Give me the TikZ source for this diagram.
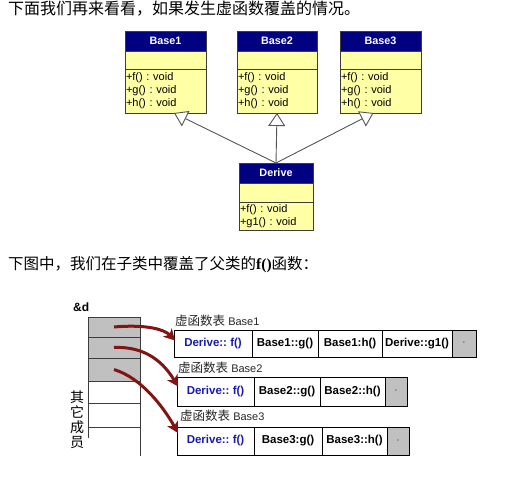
\documentclass[tikz,border=0pt]{standalone}
\usepackage{fontspec}
\setmainfont{Liberation Sans}
\newfontfamily\cjk{Noto Sans CJK SC}
\newfontfamily\serifl{Liberation Serif}
\usetikzlibrary{arrows.meta}
\definecolor{umlnavy}{RGB}{0,0,128}
\definecolor{umlyellow}{RGB}{255,255,166}
\definecolor{umlline}{RGB}{60,60,60}
\definecolor{inhline}{RGB}{85,85,85}
\definecolor{memgray}{RGB}{192,192,192}
\definecolor{ptrred}{RGB}{130,20,20}
\definecolor{fblue}{RGB}{25,25,175}
\definecolor{dotred}{RGB}{200,80,80}
\frenchspacing
\begin{document}
\begin{tikzpicture}[x=1pt,y=-1pt,
  umlhead/.style={draw=umlline, fill=umlnavy, text=white, font=\bfseries\fontsize{10.8}{12}\selectfont, inner sep=0pt, outer sep=0pt, anchor=north},
  umlbody/.style={draw=umlline, fill=umlyellow, inner sep=0pt, outer sep=0pt, anchor=north},
  umlops/.style={umlbody, align=left, inner xsep=1pt, font=\fontsize{11}{13}\selectfont},
  inherit/.style={draw=inhline, line width=0.9pt, -{Triangle[open, length=13pt, width=17pt, fill=white]}},
  memcell/.style={draw=umlline, inner sep=0pt, outer sep=0pt, minimum width=52pt},
  vcell/.style={draw=black, fill=white, inner sep=0pt, outer sep=0pt, anchor=west, font=\bfseries\fontsize{11.5}{12}\selectfont},
  vgray/.style={vcell, fill=memgray, text=dotred, font=\fontsize{6}{6}\selectfont},
  vlabel/.style={anchor=west, inner sep=0pt, text=black!85, font=\fontsize{11}{12}\selectfont},
  ptr/.style={draw=ptrred, line width=3pt, -{Stealth[length=11pt, width=12pt, inset=3pt]}}
]
\useasboundingbox (0,0) rectangle (510,476);

% titles
\node[anchor=west, inner sep=0pt, font=\cjk\fontsize{16}{16}\selectfont] (title1) at (8,9) {下面我们再来看看，如果发生虚函数覆盖的情况。};
\node[anchor=west, inner sep=0pt, font=\cjk\fontsize{15.5}{16}\selectfont] (title2) at (8,265) {下图中，我们在子类中覆盖了父类的{\serifl\bfseries f()}函数：};

% Base1
\node[umlhead, minimum width=81pt, minimum height=20pt] (b1h) at (165.5,31) {Base1};
\node[umlbody, minimum width=81pt, minimum height=18pt] (b1e) at (b1h.south) {};
\node[umlops, text width=79pt, minimum height=44pt] (b1m) at (b1e.south) {+f() : void\\+g() : void\\+h() : void};
% Base2
\node[umlhead, minimum width=80pt, minimum height=20pt] (b2h) at (277,31) {Base2};
\node[umlbody, minimum width=80pt, minimum height=18pt] (b2e) at (b2h.south) {};
\node[umlops, text width=78pt, minimum height=44pt] (b2m) at (b2e.south) {+f() : void\\+g() : void\\+h() : void};
% Base3
\node[umlhead, minimum width=81pt, minimum height=20pt] (b3h) at (380.5,31) {Base3};
\node[umlbody, minimum width=81pt, minimum height=18pt] (b3e) at (b3h.south) {};
\node[umlops, text width=79pt, minimum height=44pt] (b3m) at (b3e.south) {+f() : void\\+g() : void\\+h() : void};
% Derive
\node[umlhead, minimum width=74pt, minimum height=20pt] (dh) at (276,163) {Derive};
\node[umlbody, minimum width=74pt, minimum height=19pt] (de) at (dh.south) {};
\node[umlops, text width=72pt, minimum height=28pt] (dm) at (de.south) {+f() : void\\+g1() : void};

\coordinate (t1) at ([xshift=8.5pt]b1m.south);
\coordinate (t2) at (b2m.south);
\coordinate (t3) at ([xshift=-7pt]b3m.south);
\draw[inherit] (dh.north) -- (t1);
\draw[inherit] (dh.north) -- (t2);
\draw[inherit] (dh.north) -- (t3);

% memory layout
\node[anchor=west, inner sep=0pt, font=\bfseries\fontsize{12}{12}\selectfont] (amp) at (73,307) {\&d};
\node[memcell, fill=memgray, minimum height=20pt] (m1) at (114,327) {};
\node[memcell, fill=memgray, minimum height=21pt] (m2) at (114,347.5) {};
\node[memcell, fill=memgray, minimum height=23pt] (m3) at (114,369.5) {};
\node[memcell, fill=white, minimum height=22pt] (m4) at (114,392) {};
\node[memcell, fill=white, minimum height=24pt] (m5) at (114,415) {};
\draw[umlline] (m5.south west) -- ++(0,11);
\draw[umlline] (m5.south east) -- ++(0,29);
\node[inner sep=0pt, align=center, font=\cjk\fontsize{14}{15}\selectfont] (other) at (77,420) {其\\它\\成\\员};

% vtable 1
\node[vlabel] (l1) at (175,321) {{\cjk\fontsize{12.5}{13}\selectfont 虚函数表} Base1};
\node[vcell, minimum width=78pt, minimum height=27pt, text=fblue] (r1a) at (174,343.5) {Derive:: f()};
\node[vcell, minimum width=66pt, minimum height=27pt] (r1b) at (r1a.east) {Base1::g()};
\node[vcell, minimum width=64pt, minimum height=27pt] (r1c) at (r1b.east) {Base1:h()};
\node[vcell, minimum width=70pt, minimum height=27pt] (r1d) at (r1c.east) {Derive::g1()};
\node[vgray, minimum width=24pt, minimum height=27pt] (r1e) at (r1d.east) {\textbullet};

% vtable 2
\node[vlabel] (l2) at (178,368) {{\cjk\fontsize{12.5}{13}\selectfont 虚函数表} Base2};
\node[vcell, minimum width=77pt, minimum height=29pt, text=fblue] (r2a) at (177,391.5) {Derive:: f()};
\node[vcell, minimum width=66pt, minimum height=29pt] (r2b) at (r2a.east) {Base2::g()};
\node[vcell, minimum width=65pt, minimum height=29pt] (r2c) at (r2b.east) {Base2::h()};
\node[vgray, minimum width=22pt, minimum height=29pt] (r2d) at (r2c.east) {\textbullet};

% vtable 3
\node[vlabel] (l3) at (180,416) {{\cjk\fontsize{12.5}{13}\selectfont 虚函数表} Base3};
\node[vcell, minimum width=77pt, minimum height=28pt, text=fblue] (r3a) at (177,441) {Derive:: f()};
\node[vcell, minimum width=68pt, minimum height=28pt] (r3b) at (r3a.east) {Base3:g()};
\node[vcell, minimum width=65pt, minimum height=28pt] (r3c) at (r3b.east) {Base3::h()};
\node[vgray, minimum width=22pt, minimum height=28pt] (r3d) at (r3c.east) {\textbullet};

% pointers
\draw[ptr] (m1.center) .. controls (148,324) and (165,330) .. ([xshift=1pt,yshift=3pt]r1a.west);
\draw[ptr] (m2.center) .. controls (148,346) and (165,365) .. ([xshift=1pt,yshift=5pt]r2a.west);
\draw[ptr] (m3.center) .. controls (142,378) and (164,408) .. ([xshift=1pt,yshift=8pt]r3a.west);
\end{tikzpicture}
\end{document}
